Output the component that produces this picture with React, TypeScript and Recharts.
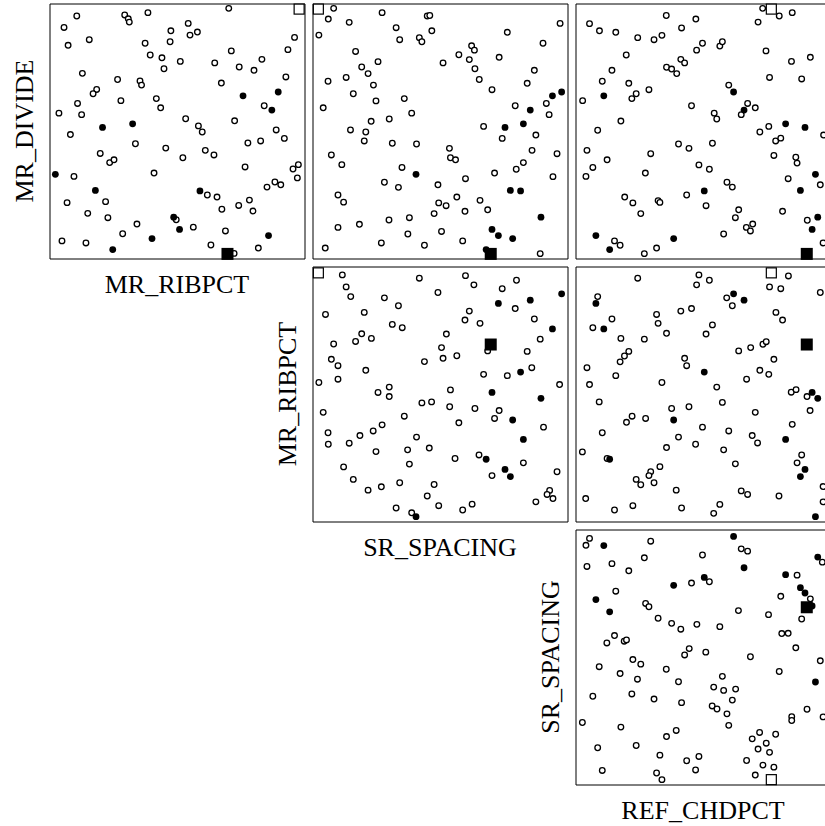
import { ReferenceArea, Scatter, ScatterChart, XAxis, YAxis } from 'recharts';

type Pair = [number, number];

// open circles, one list per panel, [x, y] on a 0-100 scale of the panel box
const ribVsDivide: Pair[] = [
  [10.5,95.3],[5.5,90.8],[7.1,83.8],[15.4,86.0],[29.3,95.7],[30.7,94.2],[31.1,92.9],[38.4,96.6],[70.1,98.3],[54.2,92.4],
  [47.4,89.5],[54.9,87.8],[57.8,89.0],[47.1,85.2],[37.3,84.6],[95.9,86.9],[93.3,82.1],[71.1,81.6],[83.1,78.3],[80.0,74.0],
  [74.2,75.3],[64.6,76.9],[51.1,77.5],[43.9,78.9],[39.3,80.0],[44.7,74.6],[12.7,72.8],[26.5,70.4],[35.3,69.8],[35.9,68.2],
  [18.3,66.5],[16.9,64.8],[10.8,61.0],[12.4,56.6],[3.5,57.2],[27.8,62.1],[41.7,62.9],[43.4,59.3],[67.2,69.0],[92.5,71.4],
  [84.0,60.1],[72.4,54.2],[53.2,55.0],[58.2,52.2],[59.7,49.8],[88.7,50.6],[91.9,47.3],[82.6,46.3],[77.6,45.5],[8.0,48.8],
  [33.5,45.2],[19.7,41.4],[23.4,37.8],[25.1,38.9],[45.4,43.5],[52.1,39.7],[60.9,42.6],[64.3,40.8],[9.4,32.4],[40.8,33.7],
  [76.5,36.1],[97.4,37.0],[95.3,35.3],[97.0,31.8],[88.2,30.2],[90.5,29.1],[85.1,28.2],[61.7,25.1],[65.5,24.3],[67.4,19.5],
  [74.0,21.0],[78.2,23.1],[79.6,18.8],[6.7,22.1],[21.8,22.5],[22.7,16.2],[14.8,17.9],[34.1,13.7],[28.5,9.9],[49.5,15.4],
  [56.2,12.5],[68.8,11.0],[4.7,7.1],[14.1,6.3],[63.1,5.5],[81.7,4.3],[72.2,2.2],
];

const spacingVsDivide: Pair[] = [
  [8.1,98.3],[6.0,94.1],[2.3,87.8],[14.2,92.8],[27.1,96.6],[44.8,95.3],[45.8,95.5],[32.6,90.7],[34.0,86.0],[41.7,86.8],
  [42.7,85.2],[46.6,89.5],[76.2,88.9],[96.9,92.4],[90.2,84.6],[62.2,83.6],[63.3,81.9],[57.2,80.1],[61.3,78.2],[51.0,76.9],
  [73.0,79.1],[16.7,81.4],[25.5,77.4],[19.1,75.3],[21.6,72.7],[13.0,71.2],[5.9,69.7],[23.7,68.2],[63.5,74.6],[65.2,70.4],
  [70.2,66.4],[84.0,68.9],[86.8,74.0],[15.8,64.8],[24.7,62.0],[35.8,62.9],[38.7,57.2],[4.0,59.3],[29.9,54.9],[22.8,54.0],
  [20.7,49.8],[14.7,50.6],[20.1,46.3],[31.1,45.4],[40.6,45.1],[79.3,60.1],[91.5,61.0],[92.6,56.6],[66.9,52.0],[74.2,47.3],
  [87.4,48.6],[53.5,43.4],[53.9,39.7],[55.9,38.9],[85.9,42.6],[95.7,41.3],[82.5,37.8],[79.7,35.2],[71.2,33.7],[94.1,32.3],
  [7.2,40.8],[11.3,37.0],[34.9,35.9],[28.0,30.1],[33.5,28.1],[49.0,29.1],[59.8,31.5],[9.8,25.1],[12.0,22.3],[49.3,22.0],
  [52.2,20.9],[56.4,24.3],[65.5,23.0],[68.5,19.3],[59.6,18.7],[47.5,17.8],[9.8,12.4],[18.2,13.6],[29.8,15.3],[37.8,16.2],
  [37.2,9.8],[50.4,10.8],[4.8,4.3],[26.8,6.3],[43.7,5.4],[58.7,7.1],[89.1,2.1],
];

const chdVsDivide: Pair[] = [
  [5.3,92.3],[9.2,89.5],[15.6,88.9],[24.2,86.8],[30.6,86.0],[33.7,87.7],[35.4,95.5],[41.4,90.6],[47.0,94.1],[19.7,80.0],
  [14.1,74.0],[10.3,69.7],[20.7,68.9],[23.6,64.8],[21.9,62.9],[28.6,66.4],[35.5,75.2],[37.5,74.5],[39.5,72.7],[41.1,78.3],
  [42.6,76.9],[47.3,81.9],[49.6,84.6],[56.4,83.5],[57.4,85.2],[73.2,98.3],[79.7,95.3],[84.8,96.6],[71.4,92.9],[74.5,81.6],
  [84.5,77.5],[91.9,79.1],[75.9,71.2],[88.5,70.6],[59.9,68.2],[67.3,61.0],[70.3,59.3],[64.8,56.6],[54.2,57.2],[55.2,54.9],
  [45.3,60.1],[2.6,62.1],[17.6,54.1],[8.5,50.5],[4.3,42.6],[12.2,38.9],[6.6,35.9],[3.9,32.4],[29.3,41.3],[27.2,33.7],
  [40.2,45.1],[44.3,43.4],[53.5,45.4],[48.2,36.9],[52.3,35.2],[72.1,49.8],[75.6,52.0],[78.3,46.3],[80.3,47.4],[77.6,40.6],
  [86.2,39.9],[86.7,37.6],[97.1,48.6],[59.2,30.1],[61.3,28.2],[83.2,31.5],[95.8,29.1],[19.1,24.3],[22.3,22.0],[25.4,17.8],
  [32.2,22.9],[32.9,22.2],[43.4,25.1],[51.0,20.9],[63.8,19.3],[62.5,16.2],[66.8,12.4],[69.3,13.7],[68.4,11.0],[81.0,18.7],
  [90.7,15.2],[96.9,6.3],[15.1,7.1],[17.3,5.4],[26.8,2.1],[31.6,4.3],[57.9,9.8],
];

const spacingVsRib: Pair[] = [
  [11.5,96.9],[13.0,92.2],[14.8,88.4],[4.9,81.4],[20.1,82.2],[28.0,87.9],[33.5,84.8],[41.7,95.6],[49.0,90.0],[59.8,96.6],
  [63.1,93.0],[74.2,91.5],[79.8,94.8],[79.3,83.7],[61.3,82.7],[59.6,79.2],[65.5,77.9],[86.8,79.6],[31.1,77.5],[35.0,76.2],
  [19.1,73.8],[16.7,70.8],[22.9,72.0],[8.1,69.8],[7.2,63.8],[9.8,61.3],[9.8,56.0],[2.3,54.7],[20.7,59.5],[52.3,73.7],
  [50.4,68.4],[51.0,64.2],[56.4,65.2],[43.7,62.9],[68.5,67.1],[84.0,66.9],[89.1,71.7],[66.9,57.9],[76.2,57.4],[85.8,60.5],
  [29.9,52.9],[25.5,50.8],[29.9,49.2],[53.9,51.8],[42.7,46.7],[46.5,47.1],[53.6,45.2],[63.5,44.5],[73.0,43.7],[71.2,40.6],
  [57.2,38.9],[96.7,53.9],[4.0,43.0],[35.8,41.5],[27.1,38.1],[23.6,35.7],[18.4,33.9],[5.9,35.0],[6.0,30.5],[14.2,30.9],
  [40.6,33.3],[37.1,28.3],[45.6,29.0],[24.7,27.6],[37.8,22.7],[55.7,24.9],[65.1,26.3],[90.4,37.2],[82.5,23.2],[70.2,18.2],
  [95.7,19.7],[12.0,21.6],[15.8,16.7],[21.6,12.5],[26.8,13.8],[34.0,15.4],[47.5,14.7],[44.8,10.2],[32.6,5.5],[38.7,3.6],
  [49.3,6.4],[58.7,4.7],[62.4,7.0],[87.4,7.9],[92.8,12.4],[91.8,10.8],[94.1,9.2],
];

const chdVsRib: Pair[] = [
  [24.2,95.6],[48.2,96.9],[47.3,93.0],[52.3,94.8],[8.5,88.4],[59.1,87.9],[61.3,84.8],[75.9,92.2],[80.3,91.5],[83.3,96.5],
  [95.8,90.0],[14.1,79.6],[6.6,76.2],[17.6,72.0],[26.8,71.7],[31.6,81.4],[32.2,77.9],[35.5,74.0],[41.1,82.7],[45.3,83.7],
  [53.5,77.3],[51.0,73.7],[78.4,82.2],[81.0,79.2],[63.8,67.1],[68.5,68.4],[73.3,69.7],[74.6,70.7],[77.6,63.8],[72.1,59.5],
  [75.6,57.9],[66.9,56.0],[20.7,66.9],[19.0,65.1],[17.3,62.8],[15.6,57.4],[4.3,60.5],[5.3,53.9],[9.1,47.1],[42.6,64.2],
  [43.4,61.3],[33.7,54.7],[55.2,52.9],[57.4,46.9],[70.3,43.0],[84.4,50.9],[86.3,51.9],[90.6,49.2],[91.8,43.7],[84.8,38.3],
  [22.0,41.5],[19.8,39.1],[27.3,40.6],[10.3,35.0],[37.5,44.5],[44.3,45.2],[49.6,37.2],[40.2,33.3],[35.5,29.2],[46.9,30.5],
  [59.9,35.7],[69.1,33.9],[71.2,31.0],[57.9,28.3],[62.5,22.8],[2.5,27.5],[12.2,24.9],[88.5,26.3],[86.7,23.2],[96.9,13.9],
  [96.9,7.9],[23.6,16.7],[25.4,14.6],[29.3,19.7],[28.6,18.2],[30.6,15.4],[32.9,21.7],[39.3,12.5],[64.8,12.2],[67.3,10.8],
  [79.6,10.2],[3.8,9.2],[15.1,4.7],[22.3,6.4],[41.4,5.5],[54.0,3.4],[56.4,6.9],
];

const chdVsSpacing: Pair[] = [
  [5.3,96.7],[3.9,94.0],[4.3,85.7],[14.1,86.8],[20.7,84.0],[26.8,89.1],[29.3,95.6],[49.6,90.2],[64.8,92.6],[67.3,91.7],
  [86.7,82.3],[96.6,87.4],[15.6,76.0],[27.3,71.2],[28.6,69.9],[32.2,65.4],[37.5,63.4],[41.1,61.1],[47.4,63.0],[56.4,62.1],
  [45.3,79.2],[52.3,79.7],[63.7,68.4],[75.5,66.8],[80.3,74.0],[88.5,65.1],[91.9,73.0],[15.1,58.6],[12.1,55.7],[18.9,56.4],
  [19.8,56.9],[44.4,53.5],[42.6,51.0],[50.9,52.1],[68.4,50.3],[80.7,59.4],[83.2,59.5],[86.2,53.8],[95.8,48.7],[79.7,44.5],
  [9.1,46.4],[17.3,43.7],[22.3,49.2],[25.4,47.4],[24.1,41.5],[35.4,45.4],[40.2,40.5],[6.6,34.8],[21.9,35.7],[30.6,33.7],
  [41.4,32.3],[57.4,42.6],[54.0,38.4],[57.9,37.1],[62.6,37.6],[61.3,33.3],[53.4,31.0],[55.3,29.8],[59.2,27.9],[59.9,23.4],
  [90.6,29.7],[84.6,26.8],[84.6,25.3],[96.9,26.7],[2.5,24.5],[17.6,22.7],[35.5,19.0],[39.3,21.4],[8.5,14.6],[23.6,15.5],
  [32.9,11.7],[43.4,9.5],[48.2,11.2],[46.9,5.9],[10.3,5.7],[31.6,4.7],[33.7,2.1],[72.0,20.6],[69.1,18.1],[78.3,19.9],
  [74.6,16.4],[71.4,14.1],[75.9,12.8],[66.9,9.6],[73.3,7.8],[77.6,7.0],[70.3,3.9],
];

// the filled points, one value per variable
const hiDivide = [64.0, 65.5, 58.4, 53.0, 51.6, 33.2, 26.9, 26.7, 16.4, 11.6, 8.0, 3.7, 9.2];
const hiRibpct = [75.7, 89.5, 87.0, 32.4, 20.6, 2.1, 17.8, 58.8, 48.5, 50.8, 40.0, 24.6, 85.7];
const hiSpacing = [93.9, 97.5, 85.2, 82.5, 75.3, 40.4, 77.4, 81.4, 89.4, 70.2, 78.3, 67.9, 72.7];
const hiChdpct = [10.9, 61.8, 65.9, 82.2, 89.8, 93.9, 88.0, 50.3, 94.8, 92.6, 38.3, 13.2, 7.8];

// the two square markers
const solidSquare = { divide: 2.0, ribpct: 69.6, spacing: 69.7, chdpct: 90.5 };
const hollowSquare = { divide: 98.0, ribpct: 97.7, spacing: 2.1, chdpct: 76.6 };

const highlight = {
  divide: hiDivide,
  ribpct: hiRibpct,
  spacing: hiSpacing,
  chdpct: hiChdpct,
};

type VarKey = keyof typeof highlight;

const panels: {
  row: number;
  col: number;
  xVar: VarKey;
  yVar: VarKey;
  points: Pair[];
  xLabel: string;
  yLabel: string;
}[] = [
  { row: 0, col: 0, xVar: 'ribpct', yVar: 'divide', points: ribVsDivide, xLabel: 'MR_RIBPCT', yLabel: 'MR_DIVIDE' },
  { row: 0, col: 1, xVar: 'spacing', yVar: 'divide', points: spacingVsDivide, xLabel: '', yLabel: '' },
  { row: 0, col: 2, xVar: 'chdpct', yVar: 'divide', points: chdVsDivide, xLabel: '', yLabel: '' },
  { row: 1, col: 1, xVar: 'spacing', yVar: 'ribpct', points: spacingVsRib, xLabel: 'SR_SPACING', yLabel: 'MR_RIBPCT' },
  { row: 1, col: 2, xVar: 'chdpct', yVar: 'ribpct', points: chdVsRib, xLabel: '', yLabel: '' },
  { row: 2, col: 2, xVar: 'chdpct', yVar: 'spacing', points: chdVsSpacing, xLabel: 'REF_CHDPCT', yLabel: 'SR_SPACING' },
];

const COL_X = [49.5, 312.5, 575.5];
const ROW_Y = [3.5, 266.5, 529.5];
const BOX = 255;
const PAD = 10;
const FONT = '"Liberation Serif", "Times New Roman", serif';

const OpenDot = (p: any) => (
  <circle cx={p.cx} cy={p.cy} r={2.8} fill="#fff" stroke="#000" strokeWidth={1.3} />
);
const SolidDot = (p: any) => <circle cx={p.cx} cy={p.cy} r={3.4} fill="#000" />;
const SolidSquare = (p: any) => (
  <rect x={p.cx - 6} y={p.cy - 6} width={12} height={12} fill="#000" />
);
const HollowSquare = (p: any) => (
  <rect x={p.cx - 5} y={p.cy - 5} width={10} height={10} fill="#fff" stroke="#000" strokeWidth={1.2} />
);

function Panel({ cfg }: { cfg: (typeof panels)[number] }) {
  const open = cfg.points.map(([x, y]) => ({ x, y }));
  const solid = highlight[cfg.xVar].map((x, i) => ({ x, y: highlight[cfg.yVar][i] }));
  const sq = [{ x: solidSquare[cfg.xVar], y: solidSquare[cfg.yVar] }];
  const hsq = [{ x: hollowSquare[cfg.xVar], y: hollowSquare[cfg.yVar] }];
  return (
    <div style={{ position: 'absolute', left: COL_X[cfg.col] - PAD, top: ROW_Y[cfg.row] - PAD }}>
      <ScatterChart
        width={BOX + 2 * PAD}
        height={BOX + 2 * PAD}
        margin={{ top: PAD, right: PAD, bottom: PAD, left: PAD }}
      >
        <XAxis type="number" dataKey="x" domain={[0, 100]} hide />
        <YAxis type="number" dataKey="y" domain={[0, 100]} hide />
        <ReferenceArea x1={0} x2={100} y1={0} y2={100} fill="none" stroke="#000" strokeWidth={1} />
        <Scatter data={open} shape={OpenDot} isAnimationActive={false} />
        <Scatter data={solid} shape={SolidDot} isAnimationActive={false} />
        <Scatter data={sq} shape={SolidSquare} isAnimationActive={false} />
        <Scatter data={hsq} shape={HollowSquare} isAnimationActive={false} />
      </ScatterChart>
    </div>
  );
}

export default function App() {
  return (
    <div
      style={{
        position: 'absolute',
        left: 0,
        top: 0,
        width: 825,
        height: 826,
        overflow: 'hidden',
        background: '#fff',
      }}
    >
      {panels.map((p) => (
        <Panel key={`${p.row}-${p.col}`} cfg={p} />
      ))}
      <svg width={825} height={826} style={{ position: 'absolute', left: 0, top: 0, pointerEvents: 'none' }}>
        {panels
          .filter((p) => p.xLabel)
          .map((p) => {
            const cx = COL_X[p.col] + BOX / 2;
            const cy = ROW_Y[p.row] + BOX / 2;
            return (
              <g key={p.xLabel} fontFamily={FONT} fontSize={26} fill="#000">
                <text x={cx} y={ROW_Y[p.row] + BOX + 34} textAnchor="middle">
                  {p.xLabel}
                </text>
                <text transform={`translate(${COL_X[p.col] - 16.5},${cy}) rotate(-90)`} textAnchor="middle">
                  {p.yLabel}
                </text>
              </g>
            );
          })}
      </svg>
    </div>
  );
}
